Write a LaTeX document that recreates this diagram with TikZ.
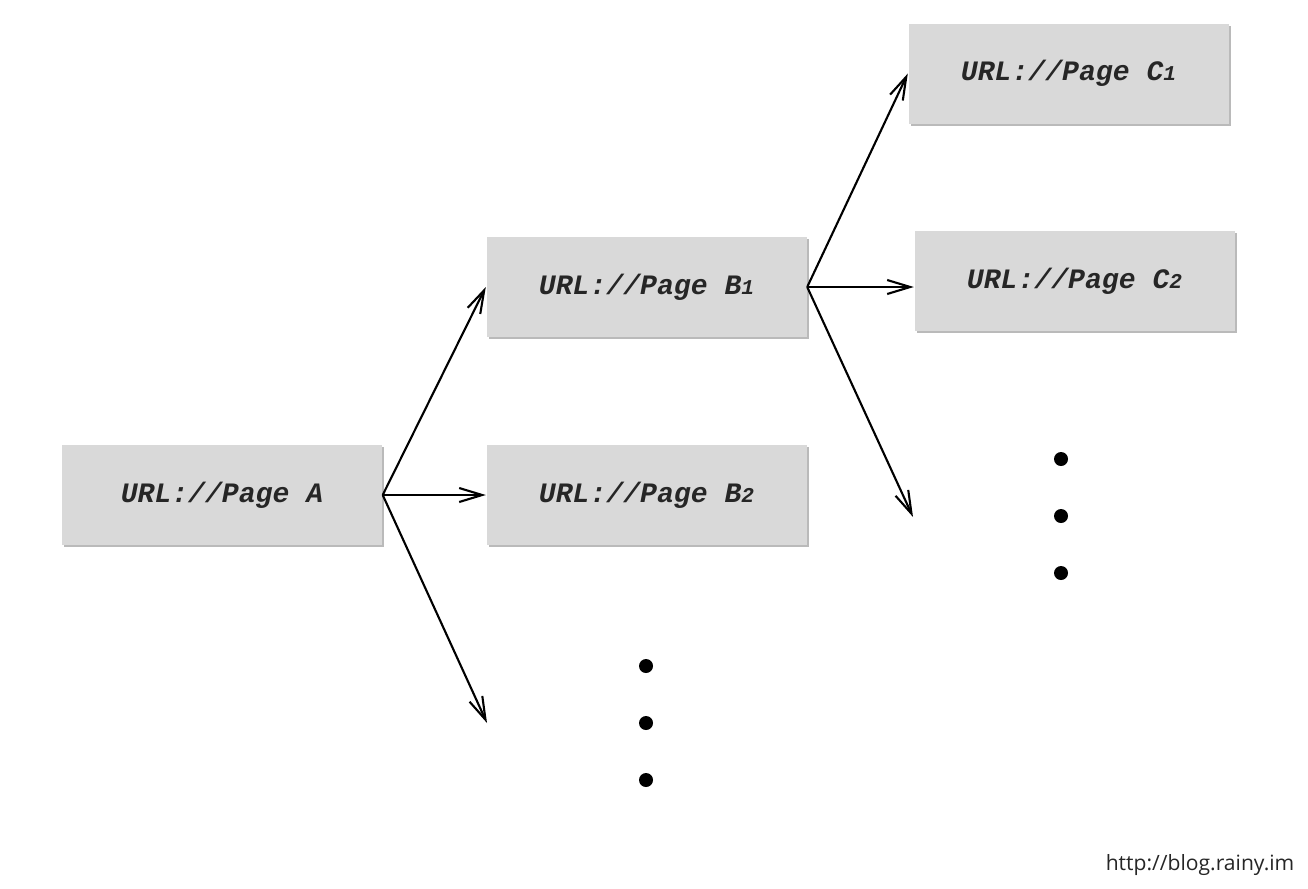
\documentclass[tikz,border=0pt]{standalone}
\usepackage{fontspec}
\usepackage{tikz}
\usetikzlibrary{arrows.meta,shadows}
\newfontfamily\urlfont{Liberation Mono}
\newfontfamily\markfont{Open Sans}
\newcommand{\pagesub}[1]{{\fontsize{6}{6}\selectfont #1}}

\begin{document}
\begin{tikzpicture}[
  every node/.style={font=\urlfont\bfseries\itshape\fontsize{8.0}{10}\selectfont, text=black!85},
  page/.style={fill=black!15, minimum width=3.2cm, minimum height=1.0cm, inner sep=0pt,
    drop shadow={shadow xshift=0.7pt, shadow yshift=-0.7pt, fill=black!45, opacity=0.6}},
  link/.style={->, line width=0.6pt},
  >={Straight Barb[length=2.3mm, width=1.4mm]}
]

\path[use as bounding box] (0,0) rectangle (13.08,8.88);

% Pages.
\node[page] (A)  at (2.220,3.930)  {URL://Page A};
\node[page] (B1) at (6.465,6.010)  {URL://Page B\pagesub{1}};
\node[page] (B2) at (6.465,3.930)  {URL://Page B\pagesub{2}};
\node[page] (C1) at (10.685,8.145) {URL://Page C\pagesub{1}};
\node[page] (C2) at (10.745,6.070) {URL://Page C\pagesub{2}};

% Open ends of the crawl.
\coordinate (A3)  at (4.87,1.65);
\coordinate (B13) at (9.13,3.71);

% Links.
\draw[link] (A.east) -- (B1.west);
\draw[link] (A.east) -- (B2.west);
\draw[link] (A.east) -- (A3);
\draw[link] (B1.east) -- (C1.west);
\draw[link] (B1.east) -- (B1.east -| C2.west);
\draw[link] (B1.east) -- (B13);

% More pages.
\foreach \y in {2.22,1.65,1.08} {
  \fill (6.46,\y) circle (0.07);
}
\foreach \y in {4.29,3.72,3.15} {
  \fill (10.61,\y) circle (0.07);
}

\node[anchor=east, inner sep=0pt, font=\markfont\fontsize{6.0}{8}\selectfont] (mark) at (12.95,0.23)
  {http://blog.rainy.im};

\end{tikzpicture}
\end{document}
